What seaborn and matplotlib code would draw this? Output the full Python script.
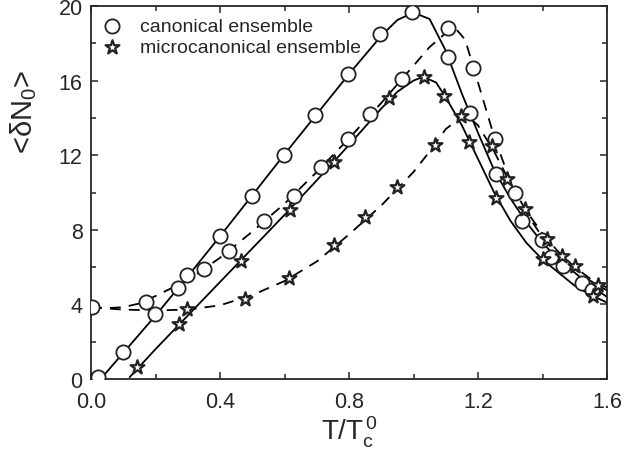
import numpy as np
import pandas as pd
import seaborn as sns
import matplotlib.pyplot as plt

# simulation points
can_solid_x = [0.021, 0.098, 0.199, 0.269, 0.298, 0.401, 0.499, 0.597, 0.695, 0.798, 0.896, 0.996,
               1.108, 1.175, 1.255, 1.335, 1.425, 1.521, 1.552]
can_solid_y = [0.1, 1.46, 3.47, 4.9, 5.58, 7.68, 9.83, 12.0, 14.17, 16.35, 18.5, 19.66,
               17.25, 14.25, 11.0, 8.49, 6.52, 5.15, 4.79]
can_dash_x = [0.004, 0.169, 0.351, 0.429, 0.536, 0.628, 0.713, 0.798, 0.865, 0.963,
              1.108, 1.185, 1.252, 1.314, 1.397, 1.464]
can_dash_y = [3.88, 4.15, 5.9, 6.88, 8.49, 9.83, 11.38, 12.87, 14.2, 16.09,
              18.8, 16.67, 12.87, 9.97, 7.45, 6.04]
mic_solid_x = [0.142, 0.274, 0.466, 0.616, 0.752, 0.925, 1.034, 1.094, 1.173, 1.257, 1.401, 1.557]
mic_solid_y = [0.63, 2.93, 6.33, 9.08, 11.65, 15.05, 16.18, 15.19, 12.69, 9.7, 6.43, 4.47]
mic_dash_x = [0.298, 0.476, 0.615, 0.752, 0.85, 0.95, 1.066, 1.146, 1.242, 1.29, 1.345,
              1.414, 1.459, 1.5, 1.572]
mic_dash_y = [3.75, 4.29, 5.42, 7.18, 8.67, 10.28, 12.56, 14.08, 12.5, 10.7, 9.12,
              7.5, 6.61, 6.04, 5.04]

# theory curves
can_line_x = [0.03, 0.1, 0.2, 0.3, 0.4, 0.5, 0.6, 0.7, 0.8, 0.9, 0.95, 1.0, 1.05, 1.1, 1.15,
              1.2, 1.25, 1.3, 1.35, 1.4, 1.45, 1.5, 1.55, 1.6]
can_line_y = [0.0, 1.4, 3.4, 5.5, 7.65, 9.85, 12.05, 14.2, 16.35, 18.4, 19.25, 19.65, 19.3, 17.6, 15.3,
              13.2, 11.2, 9.7, 8.4, 7.3, 6.4, 5.7, 5.0, 4.4]
can_dline_x = [0.0, 0.05, 0.1, 0.15, 0.2, 0.3, 0.4, 0.5, 0.6, 0.7, 0.8, 0.9, 1.0, 1.05, 1.1,
               1.13, 1.16, 1.2, 1.25, 1.3, 1.35, 1.4, 1.45, 1.5, 1.55, 1.6]
can_dline_y = [3.85, 3.8, 3.85, 4.05, 4.45, 5.3, 6.5, 7.9, 9.4, 11.1, 12.9, 14.8, 16.8, 17.8, 18.55,
               18.8, 18.2, 15.9, 13.0, 10.6, 8.9, 7.6, 6.6, 5.9, 5.25, 4.75]
mic_line_x = [0.12, 0.2, 0.3, 0.4, 0.5, 0.6, 0.7, 0.8, 0.9, 0.95, 1.0, 1.03, 1.07, 1.1, 1.15,
              1.2, 1.25, 1.3, 1.35, 1.4, 1.45, 1.5, 1.55, 1.6]
mic_line_y = [0.1, 1.6, 3.4, 5.2, 7.0, 8.8, 10.65, 12.55, 14.5, 15.4, 16.0, 16.2, 15.9, 15.1, 13.6,
              11.8, 10.0, 8.5, 7.3, 6.4, 5.7, 5.0, 4.5, 4.1]
mic_dline_x = [0.0, 0.1, 0.2, 0.3, 0.4, 0.5, 0.6, 0.7, 0.8, 0.9, 1.0, 1.05, 1.1, 1.16,
               1.2, 1.25, 1.3, 1.35, 1.4, 1.45, 1.5, 1.55, 1.6]
mic_dline_y = [3.85, 3.72, 3.68, 3.72, 3.95, 4.5, 5.25, 6.3, 7.75, 9.3, 11.1, 12.2, 13.4, 14.2,
               13.6, 12.2, 10.5, 9.0, 7.8, 6.8, 6.0, 5.35, 4.9]

sns.set_style('ticks')
plt.rcParams['font.family'] = ['Liberation Sans', 'DejaVu Sans']
plt.rcParams['mathtext.fontset'] = 'custom'
plt.rcParams['mathtext.rm'] = 'Liberation Sans'
plt.rcParams['mathtext.it'] = 'Liberation Sans'
plt.rcParams['mathtext.default'] = 'rm'

fig = plt.figure(figsize=(6.24, 4.52), dpi=100)
ax = fig.add_axes([91 / 624, 72 / 452, 516 / 624, 373 / 452])

dash = (0, (6, 4.5))
for lx, ly, ls in [(can_line_x, can_line_y, '-'), (mic_line_x, mic_line_y, '-'),
                   (can_dline_x, can_dline_y, dash), (mic_dline_x, mic_dline_y, dash)]:
    sns.lineplot(x=lx, y=ly, ax=ax, sort=False, estimator=None, color='black',
                 lw=1.3, linestyle=ls, legend=False)

circ = dict(marker='o', s=105, facecolor='white', edgecolor='#222222', linewidth=1.3, zorder=3)
star = dict(marker='*', s=110, facecolor='white', edgecolor='#222222', linewidth=1.6, zorder=3)
sns.scatterplot(x=can_solid_x, y=can_solid_y, ax=ax, label='canonical ensemble', **circ)
sns.scatterplot(x=can_dash_x, y=can_dash_y, ax=ax, **circ)
sns.scatterplot(x=mic_solid_x, y=mic_solid_y, ax=ax, label='microcanonical ensemble', **star)
sns.scatterplot(x=mic_dash_x, y=mic_dash_y, ax=ax, **star)

ax.set_xlim(0, 1.6)
ax.set_ylim(0, 20)
ax.set_xticks([0.0, 0.4, 0.8, 1.2, 1.6])
ax.set_xticks(np.arange(0, 1.61, 0.2), minor=True)
ax.set_yticks([0, 4, 8, 12, 16, 20])
ax.set_yticks(np.arange(0, 21, 2), minor=True)
ax.set_xticklabels(['0.0', '0.4', '0.8', '1.2', '1.6'])
ax.tick_params(which='both', direction='in', top=True, right=True, labelsize=15.5, width=1.1)
ax.tick_params(axis='x', pad=9)
ax.tick_params(axis='y', pad=6)
ax.tick_params(which='major', length=5)
ax.tick_params(which='minor', length=3.5)
for sp in ax.spines.values():
    sp.set_linewidth(1.3)

ax.set_xlabel(r'T/T$_c^{\,0}$', fontsize=20, labelpad=1)
ax.set_ylabel(r'<δN$_0$>', fontsize=21)
ax.yaxis.set_label_coords(-0.1, 0.72)

ax.legend(loc='upper left', frameon=False, fontsize=14, handlelength=1.0, handletextpad=0.92,
          labelspacing=0.15, borderaxespad=0.2, markerscale=1.0)

fig.savefig('out.png', dpi=100)
